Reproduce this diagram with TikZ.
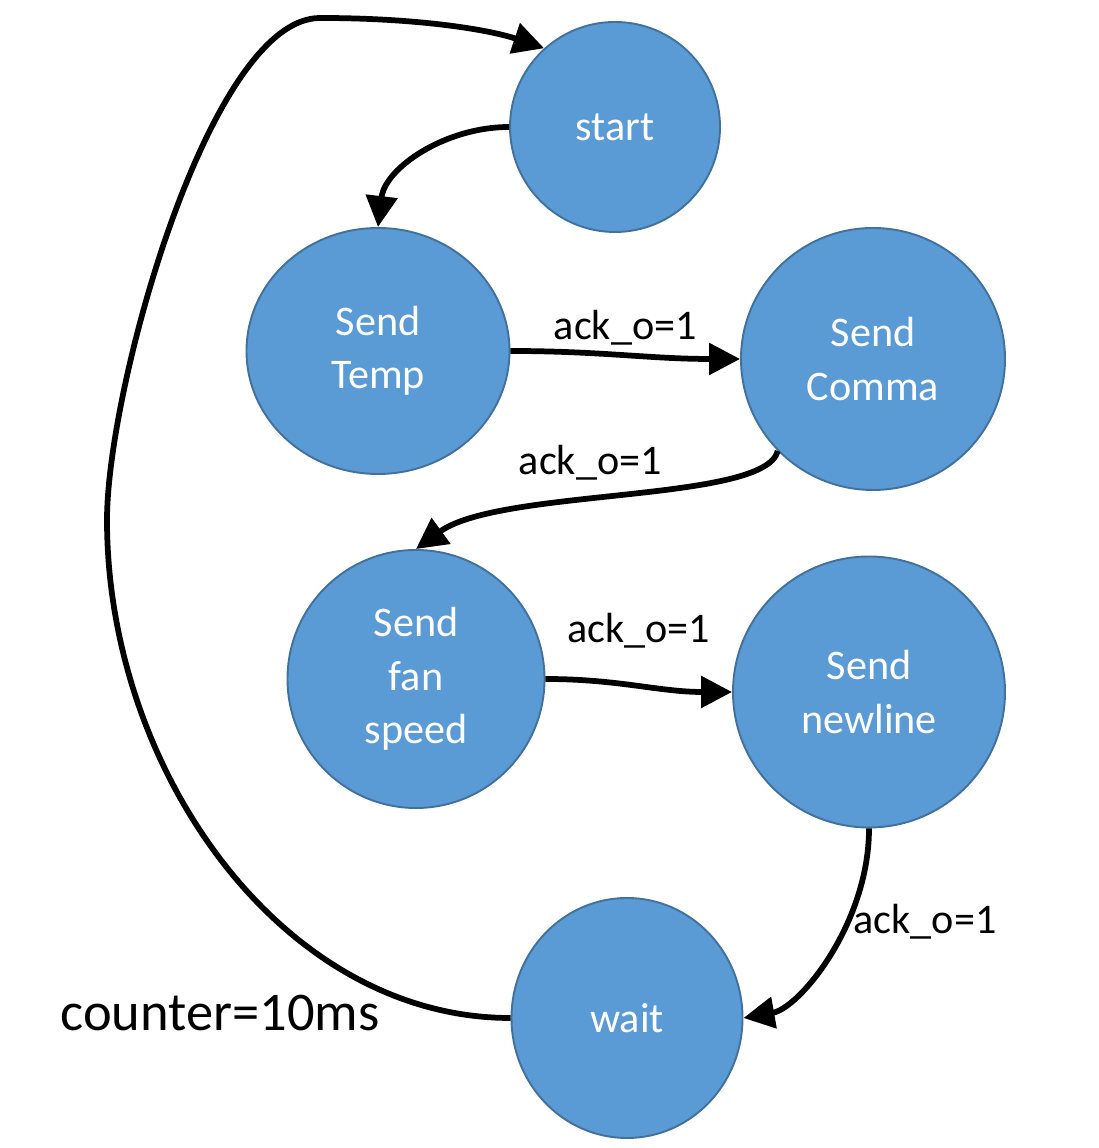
\documentclass[tikz,border=0pt]{standalone}
\usepackage{fontspec}
\setmainfont{Carlito}
\usetikzlibrary{arrows.meta,shapes.geometric}
\definecolor{stateblue}{HTML}{5B9BD5}
\definecolor{stateedge}{HTML}{41719C}
\tikzset{>={Triangle[length=0.62cm,width=0.62cm]}}
\tikzset{
  state/.style={ellipse, draw=stateedge, line width=1.1pt, fill=stateblue, text=white,
    align=center, inner sep=0pt, font=\fontsize{24}{30.3}\selectfont},
  trans/.style={->, line width=0.115cm},
  cond/.style={inner sep=2pt, font=\fontsize{24}{29}\selectfont}
}

\begin{document}
\begin{tikzpicture}
	\useasboundingbox (0,0) rectangle (21.96,22.96);
	% states
	\node [state, minimum width=4.2cm, minimum height=4.2cm] (start) at (12.30,20.42) {start};
	\node [state, minimum width=5.26cm, minimum height=4.92cm] (temp) at (7.56,15.94) {Send\\Temp};
	\node [state, minimum width=5.28cm, minimum height=5.24cm] (comma) at (17.46,15.78) {Send\\Comma};
	\node [state, minimum width=5.14cm, minimum height=5.16cm] (fan) at (8.32,9.38) {Send\\fan\\speed};
	\node [state, minimum width=5.44cm, minimum height=5.42cm] (newline) at (17.38,9.12) {Send\\newline};
	\node [state, minimum width=4.62cm, minimum height=4.8cm] (wait) at (12.54,2.60) {wait};
	% transitions
	\draw [trans] (start.west) .. controls (8.9,20.42) and (7.7,19.6) .. (temp.north);
	\draw [trans] (temp.east) to[out=0,in=180] node [cond, midway, above=2pt] {ack\_o=1} (comma.west);
	\draw [trans] (comma.224) .. controls (15.3,12.9) and (10.0,13.2) .. (fan.north)
		node [cond, pos=0.57, above=0.3cm] {ack\_o=1};
	\draw [trans] (fan.east) to[out=0,in=180] node [cond, midway, above=0.62cm] {ack\_o=1} (newline.west);
	\draw [trans] (newline.south) .. controls (17.38,4.5) and (16.0,2.8) .. (wait.east)
		node [cond, pos=0.35, right] {ack\_o=1};
	\draw [trans] (wait.west) .. controls (5.64,2.60) and (2.14,7.56) .. (2.14,12.56)
		.. controls (2.14,15.2) and (4.20,22.60) .. (6.40,22.60)
		.. controls (8.40,22.60) and (9.80,22.36) .. (start.132);
	\node [font=\fontsize{31}{37}\selectfont] (counter) at (4.40,2.70) {counter=10ms};
\end{tikzpicture}
\end{document}
